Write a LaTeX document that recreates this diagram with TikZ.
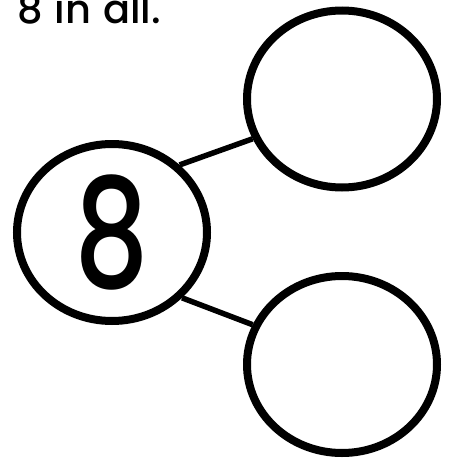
\documentclass[tikz,border=0pt]{standalone}
\usepackage{fontspec}
\setmainfont{Poppins}[BoldFont={Poppins Medium}]
\usetikzlibrary{shapes.geometric, positioning}

\begin{document}
\begin{tikzpicture}[x=1pt, y=-1pt,
    bond/.style={ellipse, draw=black, line width=8pt, minimum width=190pt, minimum height=177pt, inner sep=0pt},
    blink/.style={line width=5.5pt, black}
  ]
  \useasboundingbox (0,0) rectangle (449,458);
  \node[anchor=base west, font=\fontsize{40}{44}\selectfont\bfseries, inner sep=0pt] (title) at (17,23) {8\hspace{0.3em}in\hspace{0.3em}all.};

  \node[bond, font=\fontsize{152}{160}\selectfont\bfseries] (whole) at (112,232.5) {\scalebox{0.77}[1]{8}};
  \node[bond] (partA) at (342,99) {};
  \node[bond] (partB) at (342,364.5) {};

  \draw[blink] (whole.45) -- (partA.204);
  \draw[blink] (whole.-43) -- (partB.156);
\end{tikzpicture}
\end{document}
